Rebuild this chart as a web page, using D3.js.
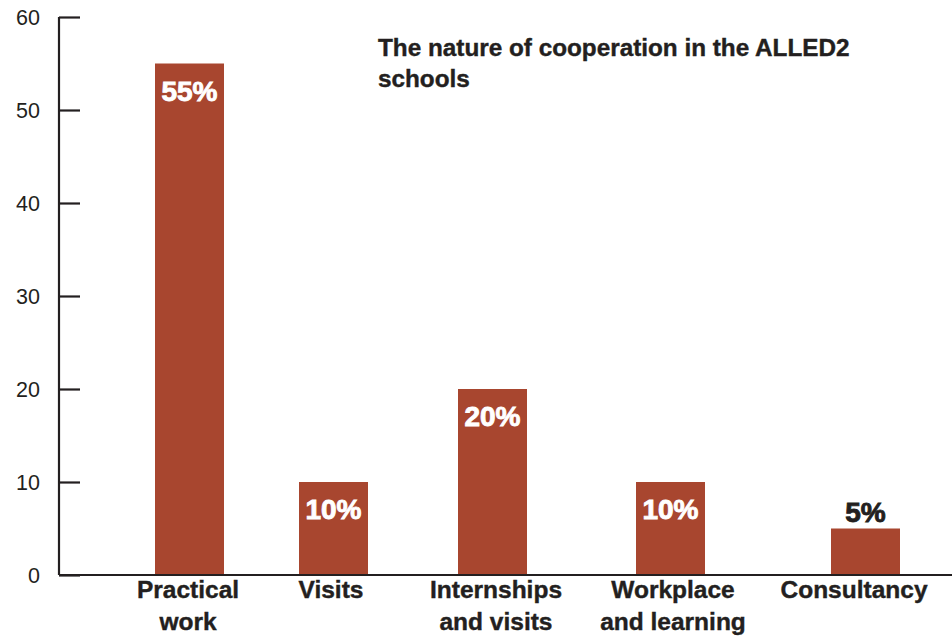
<!DOCTYPE html>
<html>
<head>
<meta charset="utf-8">
<script src="https://cdn.jsdelivr.net/npm/d3@7/dist/d3.min.js"></script>
<style>
  html, body { margin: 0; padding: 0; background: #fff; }
  svg { display: block; }
</style>
</head>
<body>
<svg id="chart" width="952" height="638"></svg>
<script>
// Nature of cooperation, share of schools (%)
const categories = [
  ["Practical", "work"],
  ["Visits"],
  ["Internships", "and visits"],
  ["Workplace", "and learning"],
  ["Consultancy"]
];
const values = [55, 10, 20, 10, 5];
const valueLabels = ["55%", "10%", "20%", "10%", "5%"];
const yTicks = [0, 10, 20, 30, 40, 50, 60];
const titleLines = ["The nature of cooperation in the ALLED2", "schools"];

const svg = d3.select("#chart");
const barColor = "#a8462f";
const ink = "#231f20";
const font = "'Liberation Sans', Arial, sans-serif";

const keys = categories.map(c => c.join(" "));
// bar centres and label centres along the category axis
const x = d3.scaleOrdinal().domain(keys).range([189.5, 333.5, 492.5, 670.5, 865.5]);
const xLabel = d3.scaleOrdinal().domain(keys).range([188, 331, 496, 673, 854]);
const barW = 69;
const y = d3.scaleLinear().domain([0, 60]).range([575, 17]);

// bars
svg.append("g").selectAll("rect")
  .data(values)
  .join("rect")
  .attr("x", (d, i) => x(keys[i]) - barW / 2)
  .attr("width", barW)
  .attr("y", d => y(d))
  .attr("height", d => y(0) - y(d))
  .attr("fill", barColor);

// y axis with inward ticks
const yAxis = d3.axisRight(y).tickValues(yTicks).tickSize(21).tickFormat("");
const gy = svg.append("g").attr("transform", "translate(59,0)").call(yAxis);
gy.select(".domain").attr("stroke", ink).attr("stroke-width", 2.2).attr("d", `M0,${y(60)}V${y(0)}`);
gy.selectAll(".tick line").attr("stroke", ink).attr("stroke-width", 2.2);

svg.append("g").selectAll("text")
  .data(yTicks)
  .join("text")
  .attr("x", 40)
  .attr("y", d => y(d) + 7.5)
  .attr("text-anchor", "end")
  .attr("font-family", font)
  .attr("font-size", 21.5)
  .attr("fill", ink)
  .text(d => d);

// baseline
svg.append("line")
  .attr("x1", 59).attr("x2", 952)
  .attr("y1", y(0)).attr("y2", y(0))
  .attr("stroke", ink).attr("stroke-width", 2.2);

// value labels: inside the bar when it is tall enough, otherwise above
svg.append("g").selectAll("text")
  .data(values)
  .join("text")
  .attr("x", (d, i) => x(keys[i]))
  .attr("y", d => (d >= 10 ? y(d) + 37 : y(d) - 7))
  .attr("text-anchor", "middle")
  .attr("font-family", font)
  .attr("font-weight", "bold")
  .attr("font-size", 28)
  .attr("fill", d => (d >= 10 ? "#ffffff" : ink))
  .attr("stroke", d => (d >= 10 ? "#ffffff" : ink))
  .attr("stroke-width", 0.9)
  .text((d, i) => valueLabels[i]);

// category labels
const cat = svg.append("g").selectAll("text")
  .data(categories)
  .join("text")
  .attr("x", (d, i) => xLabel(keys[i]))
  .attr("y", 598)
  .attr("text-anchor", "middle")
  .attr("font-family", font)
  .attr("font-weight", "bold")
  .attr("font-size", 24.5)
  .attr("fill", ink)
  .attr("stroke", ink)
  .attr("stroke-width", 0.4);
cat.selectAll("tspan")
  .data(d => d)
  .join("tspan")
  .attr("x", function () { return d3.select(this.parentNode).attr("x"); })
  .attr("dy", (d, i) => (i === 0 ? 0 : 32))
  .text(d => d);

// title
svg.append("text")
  .attr("x", 378)
  .attr("y", 56)
  .attr("font-family", font)
  .attr("font-weight", "bold")
  .attr("font-size", 24.3)
  .attr("fill", ink)
  .attr("stroke", ink)
  .attr("stroke-width", 0.4)
  .selectAll("tspan")
  .data(titleLines)
  .join("tspan")
  .attr("x", 378)
  .attr("dy", (d, i) => (i === 0 ? 0 : 31))
  .text(d => d);
</script>
</body>
</html>
